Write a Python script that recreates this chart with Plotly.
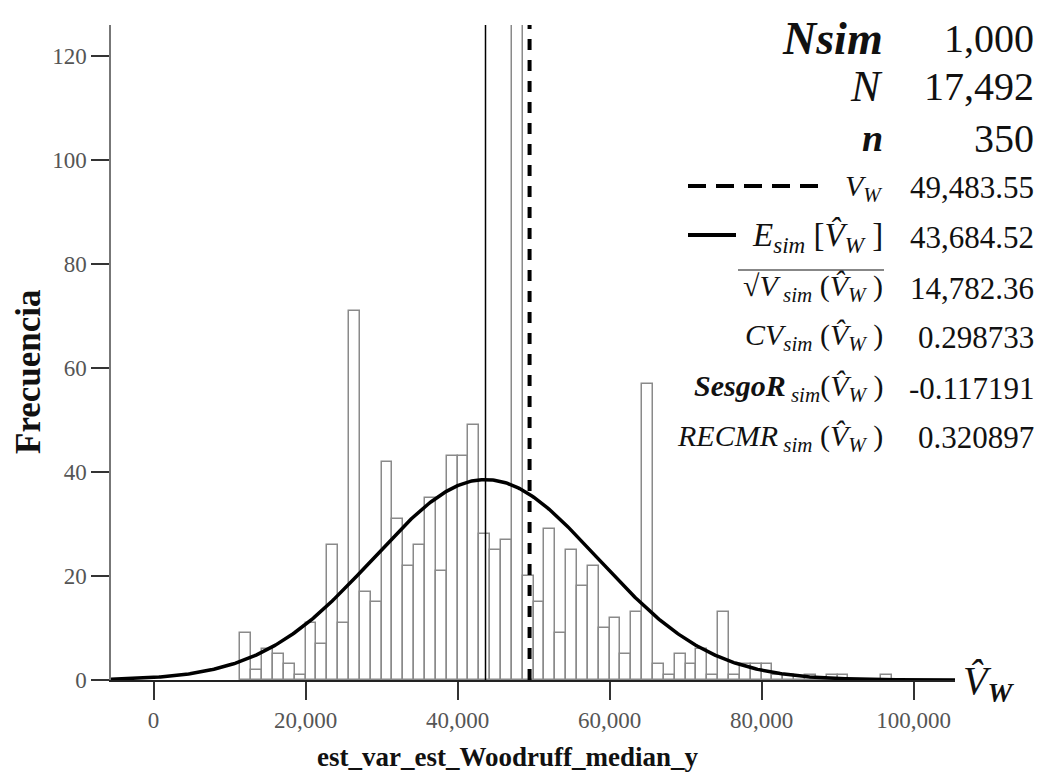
import numpy as np
import plotly.graph_objects as go

# ---------------- data ----------------
bin_start = 20000 / 14 * 8          # first bin left edge (11,428.6)
bin_width = 20000 / 14              # ~1,428.6
counts = [9, 2, 6, 5, 3, 1, 11, 7, 26, 11, 71, 17, 15, 42, 31, 22, 26, 35, 21, 43,
          43, 49, 28, 25, 27, 126, 20, 15, 29, 9, 25, 18, 22, 10, 12, 5, 13, 57, 3, 1,
          5, 3, 6, 1, 13, 1, 3, 3, 3, 1, 1, 0, 1, 0, 1, 1, 0, 0, 0, 1]

n_sim = 1000
true_value = 49483.55       # V_W
mean_est = 43684.52         # E_sim[V^_W]
sd_est = 14782.36           # sqrt(V_sim(V^_W))

x_ticks = [0, 20000, 40000, 60000, 80000, 100000]
x_tick_text = ["0", "20,000", "40,000", "60,000", "80,000", "100,000"]
y_ticks = [0, 20, 40, 60, 80, 100, 120]

stat_labels = [
    "<b><i>Nsim</i></b>",
    "<i>N</i>",
    "<b><i>n</i></b>",
    "<i>V<sub>W</sub></i>",
    "<i>E<sub>sim</sub></i> [<i>V̂<sub>W</sub></i> ]",
    "√<i>V<sub> sim</sub></i> (<i>V̂<sub>W</sub></i> )",
    "<i>CV<sub>sim</sub></i> (<i>V̂<sub>W</sub></i> )",
    "<b><i>SesgoR</i></b><i><sub> sim</sub></i>(<i>V̂<sub>W</sub></i> )",
    "<i>RECMR<sub> sim</sub></i> (<i>V̂<sub>W</sub></i> )",
]
stat_values = ["1,000", "17,492", "350", "49,483.55", "43,684.52", "14,782.36",
               "0.298733", "-0.117191", "0.320897"]

# ---------------- layout geometry ----------------
W, H = 1042, 780
ML, MR, MT, MB = 111, 87, 25, 100
PW, PH = W - ML - MR, H - MT - MB
X_RANGE = [-5592, 105461]
Y_RANGE = [0, 126]

def px(x):
    return (x - ML) / PW

def py(y):
    return (H - MB - y) / PH

FONT = "Liberation Serif, Times New Roman, serif"

edges = bin_start + bin_width * np.arange(len(counts))
centers = edges + bin_width / 2

fig = go.Figure()
fig.add_trace(go.Bar(
    x=centers, y=counts, width=bin_width,
    marker=dict(color="white", line=dict(color="#8a8a8a", width=1.5)),
    showlegend=False, hoverinfo="x+y"))

# normal curve from the simulation statistics
xs = np.linspace(X_RANGE[0], X_RANGE[1], 600)
ys = n_sim * bin_width * np.exp(-0.5 * ((xs - mean_est) / sd_est) ** 2) / (sd_est * np.sqrt(2 * np.pi))
fig.add_trace(go.Scatter(x=xs, y=ys, mode="lines", line=dict(color="black", width=3.5),
                         showlegend=False, cliponaxis=False, hoverinfo="skip"))

# vertical reference lines
fig.add_trace(go.Scatter(x=[mean_est, mean_est], y=[0, Y_RANGE[1]], mode="lines",
                         line=dict(color="black", width=1.5), showlegend=False, hoverinfo="skip"))
fig.add_trace(go.Scatter(x=[true_value, true_value], y=[0, Y_RANGE[1]], mode="lines",
                         line=dict(color="black", width=4, dash="11px,10px"),
                         showlegend=False, hoverinfo="skip"))

fig.update_layout(
    width=W, height=H,
    margin=dict(l=ML, r=MR, t=MT, b=MB),
    paper_bgcolor="white", plot_bgcolor="white",
    bargap=0,
    font=dict(family=FONT, color="#444"),
    xaxis=dict(range=X_RANGE, tickvals=x_ticks, ticktext=x_tick_text,
               ticks="outside", ticklen=18, tickwidth=2, tickcolor="#333",
               showline=True, linecolor="#222", linewidth=2,
               showgrid=False, zeroline=False,
               tickfont=dict(family=FONT, size=23, color="#555")),
    yaxis=dict(range=Y_RANGE, tickvals=y_ticks,
               ticks="outside", ticklen=18, tickwidth=2, tickcolor="#333",
               showline=True, linecolor="#777", linewidth=1.5,
               showgrid=False, zeroline=False,
               tickfont=dict(family=FONT, size=23, color="#555")),
)

annotations = []
row_y = [38, 87, 138, 188, 237, 288, 337, 388, 438]
label_sizes = [46, 44, 38, 30, 33, 30, 30, 30, 30]
value_sizes = [40, 40, 40, 31, 31, 31, 31, 31, 31]
for lab, val, yy, fs, vs in zip(stat_labels, stat_values, row_y, label_sizes, value_sizes):
    annotations.append(dict(x=px(885), y=py(yy), xref="paper", yref="paper",
                            xanchor="right", yanchor="middle", text=lab, showarrow=False,
                            font=dict(family=FONT, size=fs, color="#111")))
    annotations.append(dict(x=px(1036), y=py(yy), xref="paper", yref="paper",
                            xanchor="right", yanchor="middle", text=val, showarrow=False,
                            font=dict(family=FONT, size=vs, color="#111")))

# axis titles
annotations.append(dict(x=px(507), y=py(757), xref="paper", yref="paper",
                        xanchor="center", yanchor="middle",
                        text="<b>est_var_est_Woodruff_median_y</b>", showarrow=False,
                        font=dict(family=FONT, size=27, color="#111")))
annotations.append(dict(x=px(28), y=py(372), xref="paper", yref="paper",
                        xanchor="center", yanchor="middle", textangle=-90,
                        text="<b>Frecuencia</b>", showarrow=False,
                        font=dict(family=FONT, size=35, color="#111")))

# V^_W axis label
annotations.append(dict(x=px(961), y=py(683), xref="paper", yref="paper",
                        xanchor="left", yanchor="middle",
                        text="<i>V̂<sub><b>W</b></sub></i>", showarrow=False,
                        font=dict(family=FONT, size=40, color="#111")))

shapes = [
    dict(type="line", xref="paper", yref="paper", x0=px(688), x1=px(818), y0=py(186), y1=py(186),
         line=dict(color="black", width=4, dash="18px,10px")),
    dict(type="line", xref="paper", yref="paper", x0=px(688), x1=px(736), y0=py(235), y1=py(235),
         line=dict(color="black", width=4)),
    dict(type="line", xref="paper", yref="paper", x0=px(738), x1=px(884), y0=py(270), y1=py(270),
         line=dict(color="#111", width=1.2)),
]
fig.update_layout(annotations=annotations, shapes=shapes)

fig.write_html("out.html")
